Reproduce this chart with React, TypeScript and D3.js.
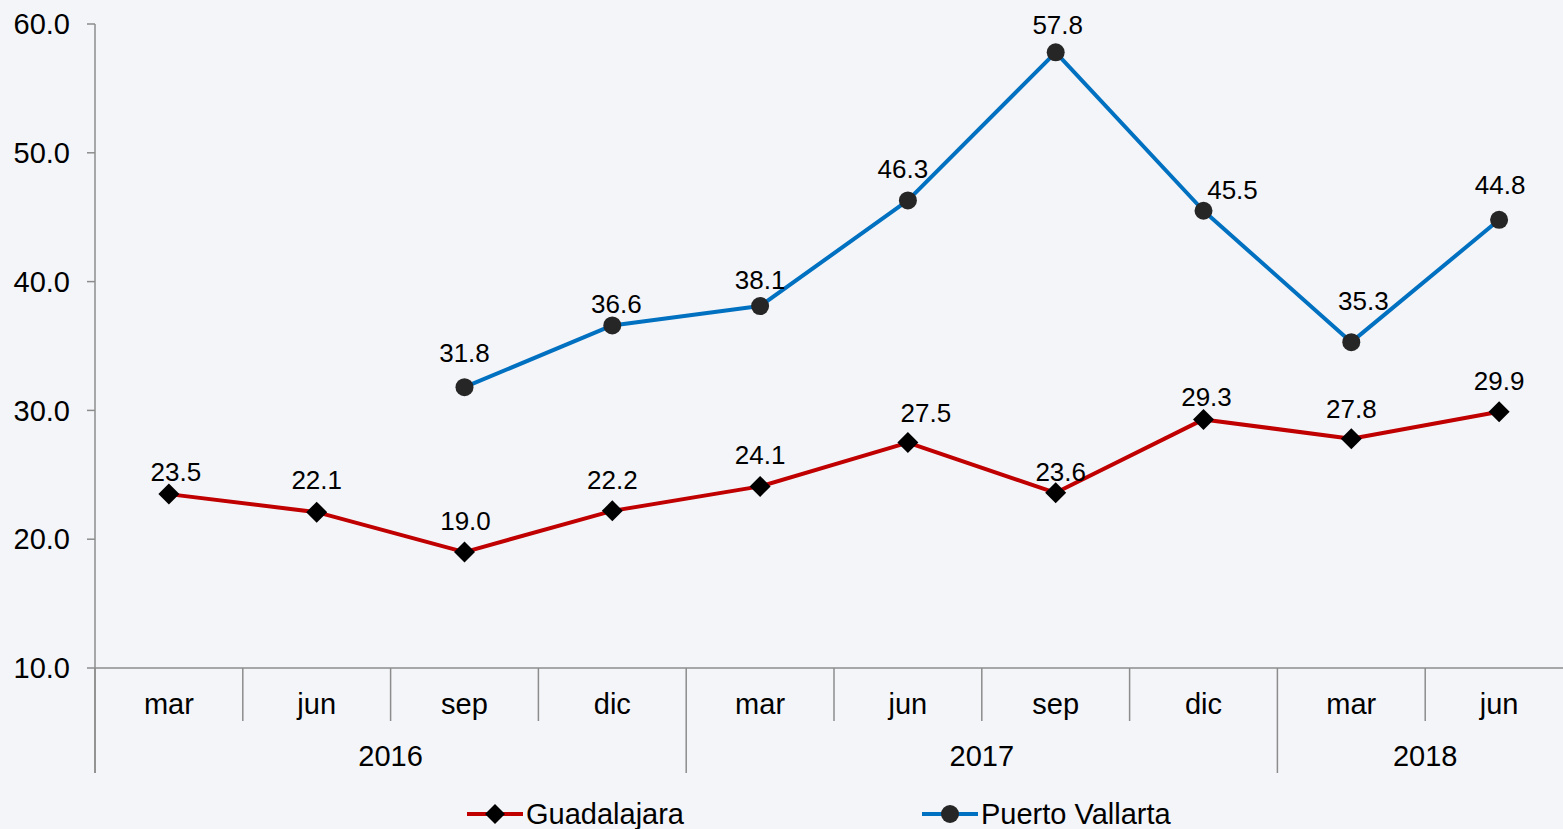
import React from "react";
import * as d3 from "d3";

const months = ["mar", "jun", "sep", "dic", "mar", "jun", "sep", "dic", "mar", "jun"];
const years = [
  { label: "2016", start: 0, end: 4 },
  { label: "2017", start: 4, end: 8 },
  { label: "2018", start: 8, end: 10 },
];
const guadalajara: (number | null)[] = [23.5, 22.1, 19.0, 22.2, 24.1, 27.5, 23.6, 29.3, 27.8, 29.9];
const puertoVallarta: (number | null)[] = [null, null, 31.8, 36.6, 38.1, 46.3, 57.8, 45.5, 35.3, 44.8];
const yTicks = [10, 20, 30, 40, 50, 60];

// manual label nudges (dx, baseline offset from point), as in the original
const redLabelOffsets: [number, number][] = [
  [7, -13], [0, -23], [1, -22], [0, -22], [0, -22], [18, -21], [5, -12], [3, -13], [0, -21], [0, -22],
];
const blueLabelOffsets: [number, number][] = [
  [0, 0], [0, 0], [0, -25], [4, -12], [0, -17], [-5, -22], [2, -18], [29, -12], [12, -32], [1, -26],
];

const W = 1563;
const H = 829;
const FONT = "'Liberation Sans', Arial, sans-serif";
const RED = "#C00000";
const BLUE = "#0070C0";
const AXIS = "#8C8C8C";
const AX_FS = 29;
const LBL_FS = 26;

export default function App() {
  const left = 95;
  const slot = 147.8;
  const x = d3.scaleBand<number>().domain(d3.range(10)).range([left, left + slot * 10]).padding(0);
  const y = d3.scaleLinear().domain([10, 60]).range([668, 24]);
  const cx = (i: number) => (x(i) as number) + x.bandwidth() / 2;

  const line = d3
    .line<number | null>()
    .defined((d) => d !== null)
    .x((_, i) => cx(i))
    .y((d) => y(d as number));

  const series = [
    { name: "Guadalajara", data: guadalajara, color: RED, marker: "diamond", offs: redLabelOffsets },
    { name: "Puerto Vallarta", data: puertoVallarta, color: BLUE, marker: "circle", offs: blueLabelOffsets },
  ];

  const diamond = (px: number, py: number, r = 10.5) =>
    `M${px},${py - r}L${px + r},${py}L${px},${py + r}L${px - r},${py}Z`;

  const axisY = y(10);

  return (
    <svg
      width={W}
      height={H}
      style={{ position: "absolute", left: 0, top: 0, background: "#F4F5F9" }}
      fontFamily={FONT}
    >
      <rect x={0} y={0} width={W} height={H} fill="#F4F5F9" />
      {/* y axis */}
      <line x1={left} x2={left} y1={y(60)} y2={773} stroke={AXIS} strokeWidth={1.5} />
      {yTicks.map((t) => (
        <g key={t}>
          <line x1={87} x2={left} y1={y(t)} y2={y(t)} stroke={AXIS} strokeWidth={1.5} />
          <text x={70} y={y(t)} dy="0.35em" textAnchor="end" fontSize={AX_FS} fill="#000">
            {t.toFixed(1)}
          </text>
        </g>
      ))}
      {/* x axis */}
      <line x1={left} x2={W} y1={axisY} y2={axisY} stroke={AXIS} strokeWidth={1.5} />
      {months.map((m, i) => (
        <g key={i}>
          {i > 0 && !years.some((yy) => yy.start === i) && (
            <line x1={x(i) as number} x2={x(i) as number} y1={axisY} y2={721} stroke={AXIS} strokeWidth={1.5} />
          )}
          <text x={cx(i)} y={714} textAnchor="middle" fontSize={AX_FS} fill="#000">
            {m}
          </text>
        </g>
      ))}
      {years.map((yy) => {
        const x0 = x(yy.start) as number;
        const x1 = (x(yy.end - 1) as number) + x.bandwidth();
        return (
          <g key={yy.label}>
            <line x1={x0} x2={x0} y1={axisY} y2={773} stroke={AXIS} strokeWidth={1.5} />
            <text x={(x0 + x1) / 2} y={766} textAnchor="middle" fontSize={AX_FS} fill="#000">
              {yy.label}
            </text>
          </g>
        );
      })}
      {/* series */}
      {series.map((s) => (
        <g key={s.name}>
          <path d={line(s.data) || ""} fill="none" stroke={s.color} strokeWidth={4} strokeLinejoin="round" />
          {s.data.map((d, i) =>
            d === null ? null : (
              <g key={i}>
                {s.marker === "diamond" ? (
                  <path d={diamond(cx(i), y(d))} fill="#000" />
                ) : (
                  <circle cx={cx(i)} cy={y(d)} r={9} fill="#262626" />
                )}
                <text
                  x={cx(i) + s.offs[i][0]}
                  y={y(d) + s.offs[i][1]}
                  textAnchor="middle"
                  fontSize={LBL_FS}
                  fill="#000"
                >
                  {d.toFixed(1)}
                </text>
              </g>
            )
          )}
        </g>
      ))}
      {/* legend */}
      {series.map((s, k) => {
        const lx = k === 0 ? 467 : 922;
        const ly = 814;
        return (
          <g key={s.name}>
            <line x1={lx} x2={lx + 56} y1={ly} y2={ly} stroke={s.color} strokeWidth={4} />
            {s.marker === "diamond" ? (
              <path d={diamond(lx + 28, ly, 10)} fill="#000" />
            ) : (
              <circle cx={lx + 28} cy={ly} r={9} fill="#262626" />
            )}
            <text x={lx + 59} y={ly} dy="0.36em" fontSize={AX_FS} fill="#000">
              {s.name}
            </text>
          </g>
        );
      })}
    </svg>
  );
}
